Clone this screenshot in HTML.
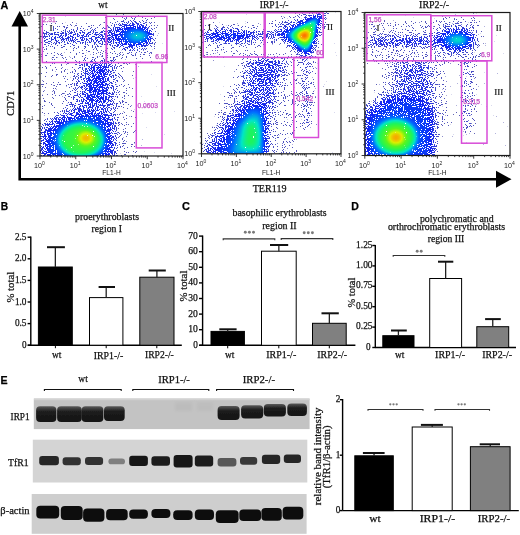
<!DOCTYPE html>
<html><head><meta charset="utf-8"><title>Figure</title>
<style>html,body{margin:0;padding:0;background:#fff;width:520px;height:535px;overflow:hidden}svg{display:block;will-change:transform;filter:blur(0.35px)}</style>
</head><body>
<svg width="520" height="535" viewBox="0 0 520 535"><defs><filter id="f1" x="0" y="0" width="1" height="1" color-interpolation-filters="sRGB">
  <feGaussianBlur in="SourceGraphic" stdDeviation="3.0" result="d"/>
  <feTurbulence type="fractalNoise" baseFrequency="0.9" numOctaves="2" seed="3" result="t"/>
  <feColorMatrix in="t" type="matrix" values="1 0 0 0 0  1 0 0 0 0  1 0 0 0 0  0 0 0 0 1" result="n0"/>
  <feComponentTransfer in="n0" result="n"><feFuncR type="table" tableValues="1.000 1.000 1.000 1.000 1.000 1.000 1.000 0.999 0.996 0.991 0.984 0.968 0.949 0.923 0.886 0.847 0.790 0.733 0.667 0.583 0.510 0.416 0.333 0.268 0.202 0.155 0.114 0.076 0.051 0.031 0.015 0.007 0.003 0.001 0.000 0.000 0.000 0.000 0.000 0.000 0.000"/><feFuncG type="table" tableValues="1.000 1.000 1.000 1.000 1.000 1.000 1.000 0.999 0.996 0.991 0.984 0.968 0.949 0.923 0.886 0.847 0.790 0.733 0.667 0.583 0.510 0.416 0.333 0.268 0.202 0.155 0.114 0.076 0.051 0.031 0.015 0.007 0.003 0.001 0.000 0.000 0.000 0.000 0.000 0.000 0.000"/><feFuncB type="table" tableValues="1.000 1.000 1.000 1.000 1.000 1.000 1.000 0.999 0.996 0.991 0.984 0.968 0.949 0.923 0.886 0.847 0.790 0.733 0.667 0.583 0.510 0.416 0.333 0.268 0.202 0.155 0.114 0.076 0.051 0.031 0.015 0.007 0.003 0.001 0.000 0.000 0.000 0.000 0.000 0.000 0.000"/></feComponentTransfer>
  <feComponentTransfer in="d" result="p"><feFuncR type="linear" slope="2.5"/><feFuncG type="linear" slope="2.5"/><feFuncB type="linear" slope="2.5"/></feComponentTransfer>
  <feComposite in="p" in2="n" operator="arithmetic" k1="0" k2="1" k3="1" k4="-1" result="diff"/>
  <feColorMatrix in="diff" type="matrix" values="0 0 0 0 0  0 0 0 0 0  0 0 0 0 0  60 0 0 0 0" result="mask"/>
  <feComponentTransfer in="d" result="col"><feFuncR type="table" tableValues="0.373 0.255 0.149 0.059 0.000 0.000 0.118 0.353 0.863 1.000 0.941"/><feFuncG type="table" tableValues="0.373 0.282 0.204 0.137 0.451 0.902 0.961 0.961 0.941 0.588 0.157"/><feFuncB type="table" tableValues="0.706 0.804 0.894 0.961 1.000 0.784 0.353 0.118 0.000 0.000 0.000"/></feComponentTransfer>
  <feComposite in="col" in2="mask" operator="in" result="dots"/>
  <feGaussianBlur in="dots" stdDeviation="0.6"/>
</filter><filter id="f2" x="0" y="0" width="1" height="1" color-interpolation-filters="sRGB">
  <feGaussianBlur in="SourceGraphic" stdDeviation="3.0" result="d"/>
  <feTurbulence type="fractalNoise" baseFrequency="0.9" numOctaves="2" seed="11" result="t"/>
  <feColorMatrix in="t" type="matrix" values="1 0 0 0 0  1 0 0 0 0  1 0 0 0 0  0 0 0 0 1" result="n0"/>
  <feComponentTransfer in="n0" result="n"><feFuncR type="table" tableValues="1.000 1.000 1.000 1.000 1.000 1.000 1.000 0.999 0.996 0.991 0.984 0.968 0.949 0.923 0.886 0.847 0.790 0.733 0.667 0.583 0.510 0.416 0.333 0.268 0.202 0.155 0.114 0.076 0.051 0.031 0.015 0.007 0.003 0.001 0.000 0.000 0.000 0.000 0.000 0.000 0.000"/><feFuncG type="table" tableValues="1.000 1.000 1.000 1.000 1.000 1.000 1.000 0.999 0.996 0.991 0.984 0.968 0.949 0.923 0.886 0.847 0.790 0.733 0.667 0.583 0.510 0.416 0.333 0.268 0.202 0.155 0.114 0.076 0.051 0.031 0.015 0.007 0.003 0.001 0.000 0.000 0.000 0.000 0.000 0.000 0.000"/><feFuncB type="table" tableValues="1.000 1.000 1.000 1.000 1.000 1.000 1.000 0.999 0.996 0.991 0.984 0.968 0.949 0.923 0.886 0.847 0.790 0.733 0.667 0.583 0.510 0.416 0.333 0.268 0.202 0.155 0.114 0.076 0.051 0.031 0.015 0.007 0.003 0.001 0.000 0.000 0.000 0.000 0.000 0.000 0.000"/></feComponentTransfer>
  <feComponentTransfer in="d" result="p"><feFuncR type="linear" slope="2.5"/><feFuncG type="linear" slope="2.5"/><feFuncB type="linear" slope="2.5"/></feComponentTransfer>
  <feComposite in="p" in2="n" operator="arithmetic" k1="0" k2="1" k3="1" k4="-1" result="diff"/>
  <feColorMatrix in="diff" type="matrix" values="0 0 0 0 0  0 0 0 0 0  0 0 0 0 0  60 0 0 0 0" result="mask"/>
  <feComponentTransfer in="d" result="col"><feFuncR type="table" tableValues="0.373 0.255 0.149 0.059 0.000 0.000 0.118 0.353 0.863 1.000 0.941"/><feFuncG type="table" tableValues="0.373 0.282 0.204 0.137 0.451 0.902 0.961 0.961 0.941 0.588 0.157"/><feFuncB type="table" tableValues="0.706 0.804 0.894 0.961 1.000 0.784 0.353 0.118 0.000 0.000 0.000"/></feComponentTransfer>
  <feComposite in="col" in2="mask" operator="in" result="dots"/>
  <feGaussianBlur in="dots" stdDeviation="0.6"/>
</filter><filter id="f3" x="0" y="0" width="1" height="1" color-interpolation-filters="sRGB">
  <feGaussianBlur in="SourceGraphic" stdDeviation="3.0" result="d"/>
  <feTurbulence type="fractalNoise" baseFrequency="0.9" numOctaves="2" seed="23" result="t"/>
  <feColorMatrix in="t" type="matrix" values="1 0 0 0 0  1 0 0 0 0  1 0 0 0 0  0 0 0 0 1" result="n0"/>
  <feComponentTransfer in="n0" result="n"><feFuncR type="table" tableValues="1.000 1.000 1.000 1.000 1.000 1.000 1.000 0.999 0.996 0.991 0.984 0.968 0.949 0.923 0.886 0.847 0.790 0.733 0.667 0.583 0.510 0.416 0.333 0.268 0.202 0.155 0.114 0.076 0.051 0.031 0.015 0.007 0.003 0.001 0.000 0.000 0.000 0.000 0.000 0.000 0.000"/><feFuncG type="table" tableValues="1.000 1.000 1.000 1.000 1.000 1.000 1.000 0.999 0.996 0.991 0.984 0.968 0.949 0.923 0.886 0.847 0.790 0.733 0.667 0.583 0.510 0.416 0.333 0.268 0.202 0.155 0.114 0.076 0.051 0.031 0.015 0.007 0.003 0.001 0.000 0.000 0.000 0.000 0.000 0.000 0.000"/><feFuncB type="table" tableValues="1.000 1.000 1.000 1.000 1.000 1.000 1.000 0.999 0.996 0.991 0.984 0.968 0.949 0.923 0.886 0.847 0.790 0.733 0.667 0.583 0.510 0.416 0.333 0.268 0.202 0.155 0.114 0.076 0.051 0.031 0.015 0.007 0.003 0.001 0.000 0.000 0.000 0.000 0.000 0.000 0.000"/></feComponentTransfer>
  <feComponentTransfer in="d" result="p"><feFuncR type="linear" slope="2.5"/><feFuncG type="linear" slope="2.5"/><feFuncB type="linear" slope="2.5"/></feComponentTransfer>
  <feComposite in="p" in2="n" operator="arithmetic" k1="0" k2="1" k3="1" k4="-1" result="diff"/>
  <feColorMatrix in="diff" type="matrix" values="0 0 0 0 0  0 0 0 0 0  0 0 0 0 0  60 0 0 0 0" result="mask"/>
  <feComponentTransfer in="d" result="col"><feFuncR type="table" tableValues="0.373 0.255 0.149 0.059 0.000 0.000 0.118 0.353 0.863 1.000 0.941"/><feFuncG type="table" tableValues="0.373 0.282 0.204 0.137 0.451 0.902 0.961 0.961 0.941 0.588 0.157"/><feFuncB type="table" tableValues="0.706 0.804 0.894 0.961 1.000 0.784 0.353 0.118 0.000 0.000 0.000"/></feComponentTransfer>
  <feComposite in="col" in2="mask" operator="in" result="dots"/>
  <feGaussianBlur in="dots" stdDeviation="0.6"/>
</filter><filter id="bl3" x="-30%" y="-60%" width="160%" height="220%"><feGaussianBlur stdDeviation="1.5"/></filter><linearGradient id="bg1" x1="0" y1="0" x2="0" y2="1"><stop offset="0" stop-color="#5a5a5a"/><stop offset="0.35" stop-color="#1c1c1c"/><stop offset="1" stop-color="#141414"/></linearGradient><filter id="bl2" x="-20%" y="-50%" width="140%" height="200%"><feGaussianBlur stdDeviation="0.65"/></filter><clipPath id="c1"><rect x="40" y="13.5" width="143" height="142.5"/></clipPath><clipPath id="c2"><rect x="201.5" y="11.5" width="139.5" height="142.3"/></clipPath><clipPath id="c3"><rect x="364.8" y="12.5" width="145.2" height="143.0"/></clipPath></defs>
<rect width="520" height="535" fill="#fff"/>
<text x="0.6" y="9.2" font-family='"Liberation Sans", sans-serif' font-size="10.5" fill="#000" stroke="#000" stroke-width="0.25" textLength="7.8" lengthAdjust="spacingAndGlyphs" font-weight="bold">A</text>
<path d="M19.7 25 V179.2 H497" stroke="#000" stroke-width="2.6" fill="none"/>
<polygon points="11.5,26.5 19.7,11 28,26.5" fill="#000"/>
<polygon points="496,170.8 511.5,179.2 496,187.7" fill="#000"/>
<text x="0" y="0" font-family='"Liberation Serif", serif' font-size="11.3" fill="#111" stroke="#111" stroke-width="0.25" textLength="24.9" lengthAdjust="spacingAndGlyphs" transform="translate(14.1 115.8) rotate(-90)">CD71</text>
<text x="252.7" y="192.0" font-family='"Liberation Serif", serif' font-size="11" fill="#111" stroke="#111" stroke-width="0.25" textLength="33.8" lengthAdjust="spacingAndGlyphs" >TER119</text>
<text x="98.3" y="8.2" font-family='"Liberation Serif", serif' font-size="10.5" fill="#111" stroke="#111" stroke-width="0.25" textLength="9.2" lengthAdjust="spacingAndGlyphs" >wt</text>
<text x="259.8" y="8.2" font-family='"Liberation Serif", serif' font-size="10.5" fill="#111" stroke="#111" stroke-width="0.25" textLength="28.7" lengthAdjust="spacingAndGlyphs" >IRP1-/-</text>
<text x="419.1" y="8.2" font-family='"Liberation Serif", serif' font-size="10.5" fill="#111" stroke="#111" stroke-width="0.25" textLength="29.9" lengthAdjust="spacingAndGlyphs" >IRP2-/-</text>
<g clip-path="url(#c1)">
<g filter="url(#f1)">
<rect x="28" y="1.5" width="167" height="166.5" fill="rgb(1,1,1)"/>
<rect x="40" y="60" width="40" height="52" fill="rgb(9,9,9)"/>
<polygon points="100,62 128,62 140,156 110,156" fill="rgb(8,8,8)"/>
<polygon points="105,62 120,62 126,156 110,156" fill="rgb(13,13,13)"/>
<rect x="42" y="24" width="64" height="38" fill="rgb(11,11,11)"/>
<rect x="106" y="16" width="49" height="46" fill="rgb(13,13,13)"/>
<polygon points="42,31 150,28 150,46 42,44" fill="rgb(38,38,38)"/>
<ellipse cx="90" cy="37" rx="50" ry="3.5" fill="rgb(56,56,56)"/>
<ellipse cx="131" cy="36" rx="22" ry="13" fill="rgb(71,71,71)"/>
<ellipse cx="136" cy="36" rx="15" ry="8" fill="rgb(97,97,97)"/>
<ellipse cx="138" cy="36" rx="9" ry="4.5" fill="rgb(128,128,128)"/>
<polygon points="66,112 78,60 118,60 120,112" fill="rgb(31,31,31)"/>
<polygon points="78,110 87,62 110,62 110,110" fill="rgb(51,51,51)"/>
<polygon points="86,106 92,64 106,64 106,106" fill="rgb(76,76,76)"/>
<polygon points="38,160 38,128 50,118 70,108 90,102 106,103 116,118 116,160" fill="rgb(51,51,51)"/>
<polygon points="44,160 46,134 60,121 85,112 104,113 110,128 110,160" fill="rgb(84,84,84)"/>
<ellipse cx="81" cy="140" rx="24" ry="18" fill="rgb(115,115,115)"/>
<ellipse cx="81" cy="140" rx="21" ry="16" fill="rgb(163,163,163)"/>
<ellipse cx="86" cy="138" rx="9" ry="7" fill="rgb(209,209,209)"/>
<ellipse cx="86" cy="138" rx="4" ry="3.5" fill="rgb(235,235,235)"/>
</g>
</g>
<rect x="42.3" y="15.2" width="64.10000000000001" height="47.3" fill="none" stroke="#d84cd8" stroke-width="1.5"/>
<rect x="106.4" y="16.3" width="60.5" height="46.2" fill="none" stroke="#d84cd8" stroke-width="1.5"/>
<rect x="136.3" y="62.5" width="25.69999999999999" height="85.4" fill="none" stroke="#d84cd8" stroke-width="1.5"/>
<text x="42.8" y="22.0" font-family='"Liberation Sans", sans-serif' font-size="6.7" text-anchor="start" fill="#c44ec4" stroke="#c44ec4" stroke-width="0.25">2.31</text>
<text x="168.3" y="58.8" font-family='"Liberation Sans", sans-serif' font-size="6.7" text-anchor="end" fill="#c44ec4" stroke="#c44ec4" stroke-width="0.25">6.96</text>
<text x="137.5" y="108.0" font-family='"Liberation Sans", sans-serif' font-size="6.7" text-anchor="start" fill="#c44ec4" stroke="#c44ec4" stroke-width="0.25">0.0603</text>
<text x="49.5" y="31.0" font-family='"Liberation Serif", serif' font-size="9" text-anchor="start" fill="#111" stroke="#111" stroke-width="0.2">I</text>
<text x="168.2" y="31.0" font-family='"Liberation Serif", serif' font-size="9" text-anchor="start" fill="#111" stroke="#111" stroke-width="0.2">II</text>
<text x="166.8" y="95.8" font-family='"Liberation Serif", serif' font-size="9" text-anchor="start" fill="#111" stroke="#111" stroke-width="0.2">III</text>
<rect x="40" y="13.5" width="143" height="142.5" fill="none" stroke="#1a1a1a" stroke-width="1.2"/>
<path d="M40.00 156 v3.2 M40 156.00 h-3.2 M50.76 156 v1.6 M40 145.28 h-1.6 M57.06 156 v1.6 M40 139.00 h-1.6 M61.52 156 v1.6 M40 134.55 h-1.6 M64.99 156 v1.6 M40 131.10 h-1.6 M67.82 156 v1.6 M40 128.28 h-1.6 M70.21 156 v1.6 M40 125.89 h-1.6 M72.29 156 v1.6 M40 123.83 h-1.6 M74.11 156 v1.6 M40 122.01 h-1.6 M75.75 156 v3.2 M40 120.38 h-3.2 M86.51 156 v1.6 M40 109.65 h-1.6 M92.81 156 v1.6 M40 103.38 h-1.6 M97.27 156 v1.6 M40 98.93 h-1.6 M100.74 156 v1.6 M40 95.47 h-1.6 M103.57 156 v1.6 M40 92.65 h-1.6 M105.96 156 v1.6 M40 90.27 h-1.6 M108.04 156 v1.6 M40 88.20 h-1.6 M109.86 156 v1.6 M40 86.38 h-1.6 M111.50 156 v3.2 M40 84.75 h-3.2 M122.26 156 v1.6 M40 74.03 h-1.6 M128.56 156 v1.6 M40 67.75 h-1.6 M133.02 156 v1.6 M40 63.30 h-1.6 M136.49 156 v1.6 M40 59.85 h-1.6 M139.32 156 v1.6 M40 57.03 h-1.6 M141.71 156 v1.6 M40 54.64 h-1.6 M143.79 156 v1.6 M40 52.58 h-1.6 M145.61 156 v1.6 M40 50.76 h-1.6 M147.25 156 v3.2 M40 49.12 h-3.2 M158.01 156 v1.6 M40 38.40 h-1.6 M164.31 156 v1.6 M40 32.13 h-1.6 M168.77 156 v1.6 M40 27.68 h-1.6 M172.24 156 v1.6 M40 24.22 h-1.6 M175.07 156 v1.6 M40 21.40 h-1.6 M177.46 156 v1.6 M40 19.02 h-1.6 M179.54 156 v1.6 M40 16.95 h-1.6 M181.36 156 v1.6 M40 15.13 h-1.6 M183 156 v3.2 M40 13.5 h-3.2" stroke="#222" stroke-width="0.9" fill="none"/>
<text x="39.5" y="168.2" font-family='"Liberation Sans", sans-serif' font-size="7.2" text-anchor="middle" fill="#222">10<tspan font-size="5" dy="-3">0</tspan></text>
<text x="33.5" y="158.6" font-family='"Liberation Sans", sans-serif' font-size="7.2" text-anchor="end" fill="#222">10<tspan font-size="5" dy="-3">0</tspan></text>
<text x="75.2" y="168.2" font-family='"Liberation Sans", sans-serif' font-size="7.2" text-anchor="middle" fill="#222">10<tspan font-size="5" dy="-3">1</tspan></text>
<text x="33.5" y="123.0" font-family='"Liberation Sans", sans-serif' font-size="7.2" text-anchor="end" fill="#222">10<tspan font-size="5" dy="-3">1</tspan></text>
<text x="111.0" y="168.2" font-family='"Liberation Sans", sans-serif' font-size="7.2" text-anchor="middle" fill="#222">10<tspan font-size="5" dy="-3">2</tspan></text>
<text x="33.5" y="87.3" font-family='"Liberation Sans", sans-serif' font-size="7.2" text-anchor="end" fill="#222">10<tspan font-size="5" dy="-3">2</tspan></text>
<text x="146.8" y="168.2" font-family='"Liberation Sans", sans-serif' font-size="7.2" text-anchor="middle" fill="#222">10<tspan font-size="5" dy="-3">3</tspan></text>
<text x="33.5" y="51.7" font-family='"Liberation Sans", sans-serif' font-size="7.2" text-anchor="end" fill="#222">10<tspan font-size="5" dy="-3">3</tspan></text>
<text x="182.5" y="168.2" font-family='"Liberation Sans", sans-serif' font-size="7.2" text-anchor="middle" fill="#222">10<tspan font-size="5" dy="-3">4</tspan></text>
<text x="33.5" y="16.1" font-family='"Liberation Sans", sans-serif' font-size="7.2" text-anchor="end" fill="#222">10<tspan font-size="5" dy="-3">4</tspan></text>
<text x="111.5" y="175.3" font-family='"Liberation Sans", sans-serif' font-size="6.6" text-anchor="middle" fill="#222" >FL1-H</text>
<g clip-path="url(#c2)">
<g filter="url(#f2)">
<rect x="189.5" y="-0.5" width="163.5" height="166.3" fill="rgb(1,1,1)"/>
<rect x="203" y="24" width="61" height="33" fill="rgb(10,10,10)"/>
<ellipse cx="232" cy="36" rx="32" ry="6" fill="rgb(64,64,64)"/>
<ellipse cx="228" cy="35.5" rx="22" ry="4" fill="rgb(92,92,92)"/>
<polygon points="255,31 285,30 285,41 255,41" fill="rgb(46,46,46)"/>
<polygon points="265,25 328,8 312,66" fill="rgb(26,26,26)"/>
<polygon points="276,33 324,12 308,58" fill="rgb(84,84,84)"/>
<polygon points="286,34 320,15 308,54" fill="rgb(115,115,115)"/>
<polygon points="291,36 317,18 308,50" fill="rgb(166,166,166)"/>
<ellipse cx="304.5" cy="35.5" rx="9" ry="7" fill="rgb(217,217,217)"/>
<ellipse cx="304.5" cy="35.5" rx="5" ry="4" fill="rgb(255,255,255)"/>
<polygon points="300,55 312,55 310,130 302,130" fill="rgb(31,31,31)"/>
<polygon points="210,158 222,100 245,58 298,58 295,158" fill="rgb(13,13,13)"/>
<polygon points="236,112 248,58 288,58 272,112" fill="rgb(41,41,41)"/>
<polygon points="246,108 256,60 280,60 268,108" fill="rgb(61,61,61)"/>
<polygon points="203,158 205,145 222,122 240,100 258,92 270,96 268,158" fill="rgb(51,51,51)"/>
<polygon points="210,158 228,128 245,106 265,102 266,158" fill="rgb(84,84,84)"/>
<polygon points="230,156 238,125 252,110 263,115 264,156" fill="rgb(115,115,115)"/>
<polygon points="242,148 246,124 255,120 259,134 257,148" fill="rgb(153,153,153)"/>
</g>
</g>
<rect x="203.2" y="12.8" width="61.0" height="44.2" fill="none" stroke="#d84cd8" stroke-width="1.5"/>
<rect x="265.2" y="12.8" width="58.0" height="44.7" fill="none" stroke="#d84cd8" stroke-width="1.5"/>
<rect x="293.8" y="57.5" width="24.69999999999999" height="80.0" fill="none" stroke="#d84cd8" stroke-width="1.5"/>
<text x="203.8" y="19.3" font-family='"Liberation Sans", sans-serif' font-size="6.7" text-anchor="start" fill="#c44ec4" stroke="#c44ec4" stroke-width="0.25">2.08</text>
<text x="323.6" y="54.8" font-family='"Liberation Sans", sans-serif' font-size="6.7" text-anchor="end" fill="#c44ec4" stroke="#c44ec4" stroke-width="0.25">60</text>
<text x="296.5" y="101.0" font-family='"Liberation Sans", sans-serif' font-size="6.7" text-anchor="start" fill="#c44ec4" stroke="#c44ec4" stroke-width="0.25">0.542</text>
<text x="208.0" y="30.0" font-family='"Liberation Serif", serif' font-size="9" text-anchor="start" fill="#111" stroke="#111" stroke-width="0.2">I</text>
<text x="327.0" y="30.0" font-family='"Liberation Serif", serif' font-size="9" text-anchor="start" fill="#111" stroke="#111" stroke-width="0.2">II</text>
<text x="325.4" y="94.8" font-family='"Liberation Serif", serif' font-size="9" text-anchor="start" fill="#111" stroke="#111" stroke-width="0.2">III</text>
<rect x="201.5" y="11.5" width="139.5" height="142.3" fill="none" stroke="#1a1a1a" stroke-width="1.2"/>
<path d="M201.50 153.8 v3.2 M201.5 153.80 h-3.2 M212.00 153.8 v1.6 M201.5 143.09 h-1.6 M218.14 153.8 v1.6 M201.5 136.83 h-1.6 M222.50 153.8 v1.6 M201.5 132.38 h-1.6 M225.88 153.8 v1.6 M201.5 128.93 h-1.6 M228.64 153.8 v1.6 M201.5 126.12 h-1.6 M230.97 153.8 v1.6 M201.5 123.74 h-1.6 M233.00 153.8 v1.6 M201.5 121.67 h-1.6 M234.78 153.8 v1.6 M201.5 119.85 h-1.6 M236.38 153.8 v3.2 M201.5 118.23 h-3.2 M246.87 153.8 v1.6 M201.5 107.52 h-1.6 M253.01 153.8 v1.6 M201.5 101.25 h-1.6 M257.37 153.8 v1.6 M201.5 96.81 h-1.6 M260.75 153.8 v1.6 M201.5 93.36 h-1.6 M263.51 153.8 v1.6 M201.5 90.54 h-1.6 M265.85 153.8 v1.6 M201.5 88.16 h-1.6 M267.87 153.8 v1.6 M201.5 86.10 h-1.6 M269.65 153.8 v1.6 M201.5 84.28 h-1.6 M271.25 153.8 v3.2 M201.5 82.65 h-3.2 M281.75 153.8 v1.6 M201.5 71.94 h-1.6 M287.89 153.8 v1.6 M201.5 65.68 h-1.6 M292.25 153.8 v1.6 M201.5 61.23 h-1.6 M295.63 153.8 v1.6 M201.5 57.78 h-1.6 M298.39 153.8 v1.6 M201.5 54.97 h-1.6 M300.72 153.8 v1.6 M201.5 52.59 h-1.6 M302.75 153.8 v1.6 M201.5 50.52 h-1.6 M304.53 153.8 v1.6 M201.5 48.70 h-1.6 M306.12 153.8 v3.2 M201.5 47.08 h-3.2 M316.62 153.8 v1.6 M201.5 36.37 h-1.6 M322.76 153.8 v1.6 M201.5 30.10 h-1.6 M327.12 153.8 v1.6 M201.5 25.66 h-1.6 M330.50 153.8 v1.6 M201.5 22.21 h-1.6 M333.26 153.8 v1.6 M201.5 19.39 h-1.6 M335.60 153.8 v1.6 M201.5 17.01 h-1.6 M337.62 153.8 v1.6 M201.5 14.95 h-1.6 M339.40 153.8 v1.6 M201.5 13.13 h-1.6 M341 153.8 v3.2 M201.5 11.5 h-3.2" stroke="#222" stroke-width="0.9" fill="none"/>
<text x="201.0" y="166.0" font-family='"Liberation Sans", sans-serif' font-size="7.2" text-anchor="middle" fill="#222">10<tspan font-size="5" dy="-3">0</tspan></text>
<text x="195.0" y="156.4" font-family='"Liberation Sans", sans-serif' font-size="7.2" text-anchor="end" fill="#222">10<tspan font-size="5" dy="-3">0</tspan></text>
<text x="235.9" y="166.0" font-family='"Liberation Sans", sans-serif' font-size="7.2" text-anchor="middle" fill="#222">10<tspan font-size="5" dy="-3">1</tspan></text>
<text x="195.0" y="120.8" font-family='"Liberation Sans", sans-serif' font-size="7.2" text-anchor="end" fill="#222">10<tspan font-size="5" dy="-3">1</tspan></text>
<text x="270.8" y="166.0" font-family='"Liberation Sans", sans-serif' font-size="7.2" text-anchor="middle" fill="#222">10<tspan font-size="5" dy="-3">2</tspan></text>
<text x="195.0" y="85.2" font-family='"Liberation Sans", sans-serif' font-size="7.2" text-anchor="end" fill="#222">10<tspan font-size="5" dy="-3">2</tspan></text>
<text x="305.6" y="166.0" font-family='"Liberation Sans", sans-serif' font-size="7.2" text-anchor="middle" fill="#222">10<tspan font-size="5" dy="-3">3</tspan></text>
<text x="195.0" y="49.7" font-family='"Liberation Sans", sans-serif' font-size="7.2" text-anchor="end" fill="#222">10<tspan font-size="5" dy="-3">3</tspan></text>
<text x="340.5" y="166.0" font-family='"Liberation Sans", sans-serif' font-size="7.2" text-anchor="middle" fill="#222">10<tspan font-size="5" dy="-3">4</tspan></text>
<text x="195.0" y="14.1" font-family='"Liberation Sans", sans-serif' font-size="7.2" text-anchor="end" fill="#222">10<tspan font-size="5" dy="-3">4</tspan></text>
<text x="271.2" y="175.3" font-family='"Liberation Sans", sans-serif' font-size="6.6" text-anchor="middle" fill="#222" >FL1-H</text>
<g clip-path="url(#c3)">
<g filter="url(#f3)">
<rect x="352.8" y="0.5" width="169.2" height="167.0" fill="rgb(1,1,1)"/>
<rect x="367" y="22" width="64" height="39" fill="rgb(13,13,13)"/>
<rect x="431" y="18" width="49" height="43" fill="rgb(15,15,15)"/>
<ellipse cx="410" cy="41.5" rx="46" ry="4.5" fill="rgb(51,51,51)"/>
<ellipse cx="405" cy="41.5" rx="38" ry="2.5" fill="rgb(76,76,76)"/>
<ellipse cx="455" cy="39.5" rx="21" ry="12" fill="rgb(66,66,66)"/>
<ellipse cx="456" cy="40" rx="16" ry="9" fill="rgb(92,92,92)"/>
<ellipse cx="457.5" cy="40" rx="9" ry="4.5" fill="rgb(133,133,133)"/>
<polygon points="462,55 474,55 472,130 463,130" fill="rgb(26,26,26)"/>
<polygon points="370,125 385,62 445,62 450,125" fill="rgb(13,13,13)"/>
<polygon points="388,110 396,62 432,62 436,110" fill="rgb(36,36,36)"/>
<polygon points="398,100 403,64 426,64 430,100" fill="rgb(51,51,51)"/>
<polygon points="362,160 362,110 385,95 420,90 436,110 436,160" fill="rgb(56,56,56)"/>
<polygon points="366,160 367,118 385,100 418,96 432,115 432,160" fill="rgb(84,84,84)"/>
<ellipse cx="395" cy="137" rx="23" ry="19" fill="rgb(115,115,115)"/>
<ellipse cx="396" cy="137" rx="19" ry="16" fill="rgb(163,163,163)"/>
<ellipse cx="396" cy="137.5" rx="10" ry="8.5" fill="rgb(204,204,204)"/>
<ellipse cx="396" cy="137.5" rx="5" ry="4.5" fill="rgb(235,235,235)"/>
</g>
</g>
<rect x="366.8" y="14.8" width="64.0" height="46.0" fill="none" stroke="#d84cd8" stroke-width="1.5"/>
<rect x="430.8" y="15.7" width="61.0" height="45.099999999999994" fill="none" stroke="#d84cd8" stroke-width="1.5"/>
<rect x="461.5" y="60.8" width="25.5" height="82.39999999999999" fill="none" stroke="#d84cd8" stroke-width="1.5"/>
<text x="368.4" y="21.5" font-family='"Liberation Sans", sans-serif' font-size="6.7" text-anchor="start" fill="#c44ec4" stroke="#c44ec4" stroke-width="0.25">1.56</text>
<text x="490.2" y="57.0" font-family='"Liberation Sans", sans-serif' font-size="6.7" text-anchor="end" fill="#c44ec4" stroke="#c44ec4" stroke-width="0.25">6.9</text>
<text x="463.2" y="104.0" font-family='"Liberation Sans", sans-serif' font-size="6.7" text-anchor="start" fill="#c44ec4" stroke="#c44ec4" stroke-width="0.25">0.315</text>
<text x="376.5" y="31.0" font-family='"Liberation Serif", serif' font-size="9" text-anchor="start" fill="#111" stroke="#111" stroke-width="0.2">I</text>
<text x="495.8" y="31.0" font-family='"Liberation Serif", serif' font-size="9" text-anchor="start" fill="#111" stroke="#111" stroke-width="0.2">II</text>
<text x="494.3" y="95.0" font-family='"Liberation Serif", serif' font-size="9" text-anchor="start" fill="#111" stroke="#111" stroke-width="0.2">III</text>
<rect x="364.8" y="12.5" width="145.2" height="143.0" fill="none" stroke="#1a1a1a" stroke-width="1.2"/>
<path d="M364.80 155.5 v3.2 M364.8 155.50 h-3.2 M375.73 155.5 v1.6 M364.8 144.74 h-1.6 M382.12 155.5 v1.6 M364.8 138.44 h-1.6 M386.65 155.5 v1.6 M364.8 133.98 h-1.6 M390.17 155.5 v1.6 M364.8 130.51 h-1.6 M393.05 155.5 v1.6 M364.8 127.68 h-1.6 M395.48 155.5 v1.6 M364.8 125.29 h-1.6 M397.58 155.5 v1.6 M364.8 123.21 h-1.6 M399.44 155.5 v1.6 M364.8 121.39 h-1.6 M401.10 155.5 v3.2 M364.8 119.75 h-3.2 M412.03 155.5 v1.6 M364.8 108.99 h-1.6 M418.42 155.5 v1.6 M364.8 102.69 h-1.6 M422.95 155.5 v1.6 M364.8 98.23 h-1.6 M426.47 155.5 v1.6 M364.8 94.76 h-1.6 M429.35 155.5 v1.6 M364.8 91.93 h-1.6 M431.78 155.5 v1.6 M364.8 89.54 h-1.6 M433.88 155.5 v1.6 M364.8 87.46 h-1.6 M435.74 155.5 v1.6 M364.8 85.64 h-1.6 M437.40 155.5 v3.2 M364.8 84.00 h-3.2 M448.33 155.5 v1.6 M364.8 73.24 h-1.6 M454.72 155.5 v1.6 M364.8 66.94 h-1.6 M459.25 155.5 v1.6 M364.8 62.48 h-1.6 M462.77 155.5 v1.6 M364.8 59.01 h-1.6 M465.65 155.5 v1.6 M364.8 56.18 h-1.6 M468.08 155.5 v1.6 M364.8 53.79 h-1.6 M470.18 155.5 v1.6 M364.8 51.71 h-1.6 M472.04 155.5 v1.6 M364.8 49.89 h-1.6 M473.70 155.5 v3.2 M364.8 48.25 h-3.2 M484.63 155.5 v1.6 M364.8 37.49 h-1.6 M491.02 155.5 v1.6 M364.8 31.19 h-1.6 M495.55 155.5 v1.6 M364.8 26.73 h-1.6 M499.07 155.5 v1.6 M364.8 23.26 h-1.6 M501.95 155.5 v1.6 M364.8 20.43 h-1.6 M504.38 155.5 v1.6 M364.8 18.04 h-1.6 M506.48 155.5 v1.6 M364.8 15.96 h-1.6 M508.34 155.5 v1.6 M364.8 14.14 h-1.6 M510 155.5 v3.2 M364.8 12.5 h-3.2" stroke="#222" stroke-width="0.9" fill="none"/>
<text x="364.3" y="167.7" font-family='"Liberation Sans", sans-serif' font-size="7.2" text-anchor="middle" fill="#222">10<tspan font-size="5" dy="-3">0</tspan></text>
<text x="358.3" y="158.1" font-family='"Liberation Sans", sans-serif' font-size="7.2" text-anchor="end" fill="#222">10<tspan font-size="5" dy="-3">0</tspan></text>
<text x="400.6" y="167.7" font-family='"Liberation Sans", sans-serif' font-size="7.2" text-anchor="middle" fill="#222">10<tspan font-size="5" dy="-3">1</tspan></text>
<text x="358.3" y="122.3" font-family='"Liberation Sans", sans-serif' font-size="7.2" text-anchor="end" fill="#222">10<tspan font-size="5" dy="-3">1</tspan></text>
<text x="436.9" y="167.7" font-family='"Liberation Sans", sans-serif' font-size="7.2" text-anchor="middle" fill="#222">10<tspan font-size="5" dy="-3">2</tspan></text>
<text x="358.3" y="86.6" font-family='"Liberation Sans", sans-serif' font-size="7.2" text-anchor="end" fill="#222">10<tspan font-size="5" dy="-3">2</tspan></text>
<text x="473.2" y="167.7" font-family='"Liberation Sans", sans-serif' font-size="7.2" text-anchor="middle" fill="#222">10<tspan font-size="5" dy="-3">3</tspan></text>
<text x="358.3" y="50.9" font-family='"Liberation Sans", sans-serif' font-size="7.2" text-anchor="end" fill="#222">10<tspan font-size="5" dy="-3">3</tspan></text>
<text x="509.5" y="167.7" font-family='"Liberation Sans", sans-serif' font-size="7.2" text-anchor="middle" fill="#222">10<tspan font-size="5" dy="-3">4</tspan></text>
<text x="358.3" y="15.1" font-family='"Liberation Sans", sans-serif' font-size="7.2" text-anchor="end" fill="#222">10<tspan font-size="5" dy="-3">4</tspan></text>
<text x="437.4" y="175.3" font-family='"Liberation Sans", sans-serif' font-size="6.6" text-anchor="middle" fill="#222" >FL1-H</text>
<text x="0.8" y="209.7" font-family='"Liberation Sans", sans-serif' font-size="10.5" fill="#000" stroke="#000" stroke-width="0.25" textLength="7.4" lengthAdjust="spacingAndGlyphs" font-weight="bold">B</text>
<path d="M30.8 236.6 V345.2 M27.8 345.2 H181.8" stroke="#000" stroke-width="1.4" fill="none"/>
<path d="M27.6 345.2 H30.8" stroke="#000" stroke-width="1.4"/>
<text x="21.9" y="347.8" font-family='"Liberation Serif", serif' font-size="10.3" fill="#111" stroke="#111" stroke-width="0.25" textLength="4.6" lengthAdjust="spacingAndGlyphs">0</text>
<path d="M27.6 323.6 H30.8" stroke="#000" stroke-width="1.4"/>
<text x="14.9" y="326.2" font-family='"Liberation Serif", serif' font-size="10.3" fill="#111" stroke="#111" stroke-width="0.25" textLength="11.6" lengthAdjust="spacingAndGlyphs">0.5</text>
<path d="M27.6 302.0 H30.8" stroke="#000" stroke-width="1.4"/>
<text x="14.9" y="304.6" font-family='"Liberation Serif", serif' font-size="10.3" fill="#111" stroke="#111" stroke-width="0.25" textLength="11.6" lengthAdjust="spacingAndGlyphs">1.0</text>
<path d="M27.6 280.4 H30.8" stroke="#000" stroke-width="1.4"/>
<text x="14.9" y="283.0" font-family='"Liberation Serif", serif' font-size="10.3" fill="#111" stroke="#111" stroke-width="0.25" textLength="11.6" lengthAdjust="spacingAndGlyphs">1.5</text>
<path d="M27.6 258.8 H30.8" stroke="#000" stroke-width="1.4"/>
<text x="14.9" y="261.4" font-family='"Liberation Serif", serif' font-size="10.3" fill="#111" stroke="#111" stroke-width="0.25" textLength="11.6" lengthAdjust="spacingAndGlyphs">2.0</text>
<path d="M27.6 237.2 H30.8" stroke="#000" stroke-width="1.4"/>
<text x="14.9" y="239.8" font-family='"Liberation Serif", serif' font-size="10.3" fill="#111" stroke="#111" stroke-width="0.25" textLength="11.6" lengthAdjust="spacingAndGlyphs">2.5</text>
<rect x="38.4" y="267" width="33.9" height="78.19999999999999" fill="#000" stroke="#000" stroke-width="1.0"/>
<path d="M55.349999999999994 267 V247.2" stroke="#222" stroke-width="1.3" fill="none"/>
<path d="M47 247.2 H64.9" stroke="#111" stroke-width="2" fill="none"/>
<rect x="89.5" y="297.6" width="33.400000000000006" height="47.599999999999966" fill="#fff" stroke="#000" stroke-width="1.0"/>
<path d="M106.2 297.6 V287" stroke="#222" stroke-width="1.3" fill="none"/>
<path d="M98.6 287 H115" stroke="#111" stroke-width="2" fill="none"/>
<rect x="139.8" y="277.2" width="34.19999999999999" height="68.0" fill="#808080" stroke="#000" stroke-width="1.0"/>
<path d="M156.9 277.2 V270.5" stroke="#222" stroke-width="1.3" fill="none"/>
<path d="M148.7 270.5 H165.8" stroke="#111" stroke-width="2" fill="none"/>
<path d="M55.4 345.2 v3" stroke="#000" stroke-width="1"/>
<path d="M106.2 345.2 v3" stroke="#000" stroke-width="1"/>
<path d="M156.8 345.2 v3" stroke="#000" stroke-width="1"/>
<text x="51.9" y="358.3" font-family='"Liberation Serif", serif' font-size="10.5" fill="#111" stroke="#111" stroke-width="0.25" textLength="9.5" lengthAdjust="spacingAndGlyphs" >wt</text>
<text x="93.8" y="358.6" font-family='"Liberation Serif", serif' font-size="10.5" fill="#111" stroke="#111" stroke-width="0.25" textLength="29.4" lengthAdjust="spacingAndGlyphs" >IRP1-/-</text>
<text x="145.0" y="358.3" font-family='"Liberation Serif", serif' font-size="10.5" fill="#111" stroke="#111" stroke-width="0.25" textLength="28.8" lengthAdjust="spacingAndGlyphs" >IRP2-/-</text>
<text x="75.0" y="219.5" font-family='"Liberation Serif", serif' font-size="10.3" fill="#111" stroke="#111" stroke-width="0.25" textLength="64.0" lengthAdjust="spacingAndGlyphs" >proerythroblasts</text>
<text x="91.6" y="231.8" font-family='"Liberation Serif", serif' font-size="10.3" fill="#111" stroke="#111" stroke-width="0.25" textLength="30.4" lengthAdjust="spacingAndGlyphs" >region I</text>
<text x="0" y="0" font-family='"Liberation Serif", serif' font-size="10.8" fill="#111" stroke="#111" stroke-width="0.25" textLength="30.8" lengthAdjust="spacingAndGlyphs" transform="translate(14.0 302.6) rotate(-90)">% total</text>
<text x="181.9" y="209.7" font-family='"Liberation Sans", sans-serif' font-size="10.5" fill="#000" stroke="#000" stroke-width="0.25" textLength="7.9" lengthAdjust="spacingAndGlyphs" font-weight="bold">C</text>
<path d="M202.6 235.50000000000003 V345.3 M199.2 345.3 H355.4" stroke="#000" stroke-width="1.4" fill="none"/>
<path d="M199 345.3 H202.6" stroke="#000" stroke-width="1.4"/>
<text x="193.2" y="347.7" font-family='"Liberation Serif", serif' font-size="10.3" fill="#111" stroke="#111" stroke-width="0.25" textLength="4.6" lengthAdjust="spacingAndGlyphs">0</text>
<path d="M199 329.7 H202.6" stroke="#000" stroke-width="1.4"/>
<text x="188.2" y="332.1" font-family='"Liberation Serif", serif' font-size="10.3" fill="#111" stroke="#111" stroke-width="0.25" textLength="9.6" lengthAdjust="spacingAndGlyphs">10</text>
<path d="M199 314.1 H202.6" stroke="#000" stroke-width="1.4"/>
<text x="188.2" y="316.5" font-family='"Liberation Serif", serif' font-size="10.3" fill="#111" stroke="#111" stroke-width="0.25" textLength="9.6" lengthAdjust="spacingAndGlyphs">20</text>
<path d="M199 298.5 H202.6" stroke="#000" stroke-width="1.4"/>
<text x="188.2" y="300.9" font-family='"Liberation Serif", serif' font-size="10.3" fill="#111" stroke="#111" stroke-width="0.25" textLength="9.6" lengthAdjust="spacingAndGlyphs">30</text>
<path d="M199 282.9 H202.6" stroke="#000" stroke-width="1.4"/>
<text x="188.2" y="285.3" font-family='"Liberation Serif", serif' font-size="10.3" fill="#111" stroke="#111" stroke-width="0.25" textLength="9.6" lengthAdjust="spacingAndGlyphs">40</text>
<path d="M199 267.3 H202.6" stroke="#000" stroke-width="1.4"/>
<text x="188.2" y="269.7" font-family='"Liberation Serif", serif' font-size="10.3" fill="#111" stroke="#111" stroke-width="0.25" textLength="9.6" lengthAdjust="spacingAndGlyphs">50</text>
<path d="M199 251.7 H202.6" stroke="#000" stroke-width="1.4"/>
<text x="188.2" y="254.1" font-family='"Liberation Serif", serif' font-size="10.3" fill="#111" stroke="#111" stroke-width="0.25" textLength="9.6" lengthAdjust="spacingAndGlyphs">60</text>
<path d="M199 236.1 H202.6" stroke="#000" stroke-width="1.4"/>
<text x="188.2" y="238.5" font-family='"Liberation Serif", serif' font-size="10.3" fill="#111" stroke="#111" stroke-width="0.25" textLength="9.6" lengthAdjust="spacingAndGlyphs">70</text>
<rect x="211" y="331.4" width="33.400000000000006" height="13.900000000000034" fill="#000" stroke="#000" stroke-width="1.0"/>
<path d="M227.7 331.4 V329.3" stroke="#222" stroke-width="1.3" fill="none"/>
<path d="M219.3 329.3 H236.6" stroke="#111" stroke-width="2" fill="none"/>
<rect x="261.5" y="251.2" width="34.69999999999999" height="94.10000000000002" fill="#fff" stroke="#000" stroke-width="1.0"/>
<path d="M278.85 251.2 V245" stroke="#222" stroke-width="1.3" fill="none"/>
<path d="M270 245 H288.2" stroke="#111" stroke-width="2" fill="none"/>
<rect x="312.5" y="323.3" width="33.69999999999999" height="22.0" fill="#808080" stroke="#000" stroke-width="1.0"/>
<path d="M329.35 323.3 V313.3" stroke="#222" stroke-width="1.3" fill="none"/>
<path d="M321.5 313.3 H338.8" stroke="#111" stroke-width="2" fill="none"/>
<path d="M227.7 345.3 v3" stroke="#000" stroke-width="1"/>
<path d="M278.8 345.3 v3" stroke="#000" stroke-width="1"/>
<path d="M329.3 345.3 v3" stroke="#000" stroke-width="1"/>
<text x="225.0" y="358.3" font-family='"Liberation Serif", serif' font-size="10.5" fill="#111" stroke="#111" stroke-width="0.25" textLength="9.5" lengthAdjust="spacingAndGlyphs" >wt</text>
<text x="266.3" y="358.3" font-family='"Liberation Serif", serif' font-size="10.5" fill="#111" stroke="#111" stroke-width="0.25" textLength="29.9" lengthAdjust="spacingAndGlyphs" >IRP1-/-</text>
<text x="317.3" y="358.3" font-family='"Liberation Serif", serif' font-size="10.5" fill="#111" stroke="#111" stroke-width="0.25" textLength="29.7" lengthAdjust="spacingAndGlyphs" >IRP2-/-</text>
<text x="232.5" y="215.8" font-family='"Liberation Serif", serif' font-size="10.5" fill="#111" stroke="#111" stroke-width="0.25" textLength="94.2" lengthAdjust="spacingAndGlyphs" >basophilic erythroblasts</text>
<text x="262.2" y="228.8" font-family='"Liberation Serif", serif' font-size="10.5" fill="#111" stroke="#111" stroke-width="0.25" textLength="34.5" lengthAdjust="spacingAndGlyphs" >region II</text>
<path d="M223.2 240.20000000000002 V238.9 H274.8 V240.20000000000002" stroke="#333" stroke-width="1.1" fill="none"/>
<circle cx="245.3" cy="232.3" r="1.45" fill="#7a7a7a"/>
<circle cx="249.4" cy="232.3" r="1.45" fill="#7a7a7a"/>
<circle cx="253.5" cy="232.3" r="1.45" fill="#7a7a7a"/>
<path d="M281.2 239.9 V238.6 H332.8 V239.9" stroke="#333" stroke-width="1.1" fill="none"/>
<circle cx="304.2" cy="232.8" r="1.45" fill="#7a7a7a"/>
<circle cx="308.3" cy="232.8" r="1.45" fill="#7a7a7a"/>
<circle cx="312.4" cy="232.8" r="1.45" fill="#7a7a7a"/>
<text x="0" y="0" font-family='"Liberation Serif", serif' font-size="10.8" fill="#111" stroke="#111" stroke-width="0.25" textLength="30.9" lengthAdjust="spacingAndGlyphs" transform="translate(187.0 301.5) rotate(-90)">% total</text>
<text x="351.3" y="209.7" font-family='"Liberation Sans", sans-serif' font-size="10.5" fill="#000" stroke="#000" stroke-width="0.25" textLength="7.6" lengthAdjust="spacingAndGlyphs" font-weight="bold">D</text>
<path d="M375.3 244.9 V347.5 M375 347.5 H516" stroke="#000" stroke-width="1.4" fill="none"/>
<path d="M372.3 347.5 H375.3" stroke="#000" stroke-width="1.4"/>
<text x="365.9" y="349.8" font-family='"Liberation Serif", serif' font-size="10.3" fill="#111" stroke="#111" stroke-width="0.25" textLength="4.6" lengthAdjust="spacingAndGlyphs">0</text>
<path d="M372.3 327.1 H375.3" stroke="#000" stroke-width="1.4"/>
<text x="356.1" y="329.1" font-family='"Liberation Serif", serif' font-size="10.3" fill="#111" stroke="#111" stroke-width="0.25" textLength="16.5" lengthAdjust="spacingAndGlyphs">0.25</text>
<path d="M372.3 306.7 H375.3" stroke="#000" stroke-width="1.4"/>
<text x="356.1" y="308.7" font-family='"Liberation Serif", serif' font-size="10.3" fill="#111" stroke="#111" stroke-width="0.25" textLength="16.5" lengthAdjust="spacingAndGlyphs">0.50</text>
<path d="M372.3 286.3 H375.3" stroke="#000" stroke-width="1.4"/>
<text x="356.1" y="288.3" font-family='"Liberation Serif", serif' font-size="10.3" fill="#111" stroke="#111" stroke-width="0.25" textLength="16.5" lengthAdjust="spacingAndGlyphs">0.75</text>
<path d="M372.3 265.9 H375.3" stroke="#000" stroke-width="1.4"/>
<text x="356.1" y="267.9" font-family='"Liberation Serif", serif' font-size="10.3" fill="#111" stroke="#111" stroke-width="0.25" textLength="16.5" lengthAdjust="spacingAndGlyphs">1.00</text>
<path d="M372.3 245.5 H375.3" stroke="#000" stroke-width="1.4"/>
<text x="356.1" y="247.5" font-family='"Liberation Serif", serif' font-size="10.3" fill="#111" stroke="#111" stroke-width="0.25" textLength="16.5" lengthAdjust="spacingAndGlyphs">1.25</text>
<rect x="382.8" y="335.7" width="31.19999999999999" height="11.800000000000011" fill="#000" stroke="#000" stroke-width="1.0"/>
<path d="M398.4 335.7 V330.5" stroke="#222" stroke-width="1.3" fill="none"/>
<path d="M391 330.5 H406.8" stroke="#111" stroke-width="2" fill="none"/>
<rect x="429.7" y="278.5" width="31.900000000000034" height="69.0" fill="#fff" stroke="#000" stroke-width="1.0"/>
<path d="M445.65 278.5 V261.7" stroke="#222" stroke-width="1.3" fill="none"/>
<path d="M438 261.7 H453.3" stroke="#111" stroke-width="2" fill="none"/>
<rect x="476.8" y="326.7" width="31.899999999999977" height="20.80000000000001" fill="#808080" stroke="#000" stroke-width="1.0"/>
<path d="M492.75 326.7 V319.1" stroke="#222" stroke-width="1.3" fill="none"/>
<path d="M485.1 319.1 H500.8" stroke="#111" stroke-width="2" fill="none"/>
<text x="395.0" y="358.3" font-family='"Liberation Serif", serif' font-size="10.5" fill="#111" stroke="#111" stroke-width="0.25" textLength="9.5" lengthAdjust="spacingAndGlyphs" >wt</text>
<text x="435.1" y="357.8" font-family='"Liberation Serif", serif' font-size="10.5" fill="#111" stroke="#111" stroke-width="0.25" textLength="29.9" lengthAdjust="spacingAndGlyphs" >IRP1-/-</text>
<text x="482.2" y="357.8" font-family='"Liberation Serif", serif' font-size="10.5" fill="#111" stroke="#111" stroke-width="0.25" textLength="29.8" lengthAdjust="spacingAndGlyphs" >IRP2-/-</text>
<text x="419.9" y="221.6" font-family='"Liberation Serif", serif' font-size="10.3" fill="#111" stroke="#111" stroke-width="0.25" textLength="73.8" lengthAdjust="spacingAndGlyphs" >polychromatic and</text>
<text x="387.9" y="229.5" font-family='"Liberation Serif", serif' font-size="10.3" fill="#111" stroke="#111" stroke-width="0.25" textLength="117.3" lengthAdjust="spacingAndGlyphs" >orthrochromatic erythroblasts</text>
<text x="427.8" y="242.0" font-family='"Liberation Serif", serif' font-size="10.3" fill="#111" stroke="#111" stroke-width="0.25" textLength="36.5" lengthAdjust="spacingAndGlyphs" >region III</text>
<path d="M393.2 256.8 V255.5 H444.8 V256.8" stroke="#333" stroke-width="1.1" fill="none"/>
<circle cx="417.2" cy="251.3" r="1.45" fill="#7a7a7a"/>
<circle cx="421.2" cy="251.3" r="1.45" fill="#7a7a7a"/>
<text x="0" y="0" font-family='"Liberation Serif", serif' font-size="10.8" fill="#111" stroke="#111" stroke-width="0.25" textLength="29.9" lengthAdjust="spacingAndGlyphs" transform="translate(355.0 307.5) rotate(-90)">% total</text>
<text x="0.5" y="384.0" font-family='"Liberation Sans", sans-serif' font-size="10.5" fill="#000" stroke="#000" stroke-width="0.25" textLength="7.1" lengthAdjust="spacingAndGlyphs" font-weight="bold">E</text>
<text x="78.3" y="382.3" font-family='"Liberation Serif", serif' font-size="10.5" fill="#111" stroke="#111" stroke-width="0.25" textLength="9.5" lengthAdjust="spacingAndGlyphs" >wt</text>
<text x="158.2" y="383.0" font-family='"Liberation Serif", serif' font-size="10.5" fill="#111" stroke="#111" stroke-width="0.25" textLength="31.7" lengthAdjust="spacingAndGlyphs" >IRP1-/-</text>
<text x="242.7" y="383.0" font-family='"Liberation Serif", serif' font-size="10.5" fill="#111" stroke="#111" stroke-width="0.25" textLength="32.3" lengthAdjust="spacingAndGlyphs" >IRP2-/-</text>
<path d="M44.4 391 V389.5 H121.2 V391" stroke="#111" stroke-width="1.1" fill="none"/>
<path d="M132.8 391 V389.5 H208.8 V391" stroke="#111" stroke-width="1.1" fill="none"/>
<path d="M216.6 391 V389.5 H293.5 V391" stroke="#111" stroke-width="1.1" fill="none"/>
<rect x="33.8" y="398.5" width="275.8" height="30.6" fill="#c3c3c3"/>
<rect x="32.8" y="439.7" width="274.5" height="42.8" fill="#d4d4d4"/>
<rect x="31.7" y="494" width="274.9" height="39.8" fill="#cecece"/>
<rect x="34" y="398.6" width="275.4" height="1.6" fill="#d2d2d2"/>
<rect x="175" y="402.5" width="17" height="8.5" fill="#bcbcbc" filter="url(#bl3)"/>
<rect x="197" y="402.5" width="16" height="8.5" fill="#bdbdbd" filter="url(#bl3)"/>
<rect x="36.1" y="406.3" width="20.3" height="15.7" rx="4" fill="url(#bg1)" filter="url(#bl2)"/>
<rect x="57.1" y="406.3" width="24.7" height="15.7" rx="4" fill="url(#bg1)" filter="url(#bl2)"/>
<rect x="81.6" y="406.3" width="21.8" height="15.7" rx="4" fill="url(#bg1)" filter="url(#bl2)"/>
<rect x="104.0" y="406.3" width="20.7" height="14.7" rx="4" fill="url(#bg1)" filter="url(#bl2)"/>
<rect x="217.6" y="406.0" width="22.0" height="14.0" rx="4" fill="url(#bg1)" filter="url(#bl2)"/>
<rect x="241.1" y="405.3" width="22.1" height="13.2" rx="4" fill="url(#bg1)" filter="url(#bl2)"/>
<rect x="263.8" y="404.0" width="22.1" height="12.5" rx="4" fill="url(#bg1)" filter="url(#bl2)"/>
<rect x="287.3" y="403.5" width="19.6" height="12.5" rx="4" fill="url(#bg1)" filter="url(#bl2)"/>
<rect x="39.2" y="456.0" width="19.7" height="9.3" rx="3" fill="rgb(40,40,40)" filter="url(#bl2)"/>
<rect x="62.6" y="457.2" width="18.2" height="8.1" rx="3" fill="rgb(51,51,51)" filter="url(#bl2)"/>
<rect x="85.0" y="457.0" width="18.1" height="8.0" rx="3" fill="rgb(51,51,51)" filter="url(#bl2)"/>
<rect x="108.4" y="458.5" width="16.6" height="5.8" rx="3" fill="rgb(127,127,127)" filter="url(#bl2)"/>
<rect x="129.2" y="455.7" width="18.7" height="10.3" rx="3" fill="rgb(25,25,25)" filter="url(#bl2)"/>
<rect x="151.4" y="456.3" width="18.6" height="9.4" rx="3" fill="rgb(30,30,30)" filter="url(#bl2)"/>
<rect x="173.6" y="455.1" width="19.0" height="12.4" rx="3" fill="rgb(25,25,25)" filter="url(#bl2)"/>
<rect x="194.8" y="455.5" width="18.4" height="11.0" rx="3" fill="rgb(30,30,30)" filter="url(#bl2)"/>
<rect x="217.6" y="458.0" width="18.8" height="8.5" rx="3" fill="rgb(89,89,89)" filter="url(#bl2)"/>
<rect x="240.0" y="456.9" width="17.2" height="7.8" rx="3" fill="rgb(56,56,56)" filter="url(#bl2)"/>
<rect x="261.9" y="454.7" width="18.3" height="9.4" rx="3" fill="rgb(40,40,40)" filter="url(#bl2)"/>
<rect x="283.8" y="454.5" width="17.2" height="8.5" rx="3" fill="rgb(40,40,40)" filter="url(#bl2)"/>
<rect x="36.3" y="505.7" width="22.9" height="12.8" rx="4" fill="rgb(12,12,12)" filter="url(#bl2)"/>
<rect x="60.8" y="506.0" width="21.9" height="14.1" rx="4" fill="rgb(12,12,12)" filter="url(#bl2)"/>
<rect x="83.1" y="508.5" width="21.3" height="13.2" rx="4" fill="rgb(12,12,12)" filter="url(#bl2)"/>
<rect x="106.1" y="509.1" width="21.6" height="11.2" rx="4" fill="rgb(12,12,12)" filter="url(#bl2)"/>
<rect x="129.2" y="509.5" width="18.7" height="9.2" rx="4" fill="rgb(12,12,12)" filter="url(#bl2)"/>
<rect x="151.4" y="509.0" width="19.0" height="9.0" rx="4" fill="rgb(12,12,12)" filter="url(#bl2)"/>
<rect x="173.2" y="510.3" width="19.4" height="9.7" rx="4" fill="rgb(12,12,12)" filter="url(#bl2)"/>
<rect x="194.8" y="509.5" width="19.2" height="10.5" rx="4" fill="rgb(12,12,12)" filter="url(#bl2)"/>
<rect x="215.8" y="510.3" width="22.8" height="12.7" rx="4" fill="rgb(12,12,12)" filter="url(#bl2)"/>
<rect x="239.3" y="509.5" width="21.8" height="11.5" rx="4" fill="rgb(12,12,12)" filter="url(#bl2)"/>
<rect x="261.4" y="508.0" width="20.4" height="12.7" rx="4" fill="rgb(12,12,12)" filter="url(#bl2)"/>
<rect x="282.6" y="506.8" width="20.7" height="12.7" rx="4" fill="rgb(12,12,12)" filter="url(#bl2)"/>
<text x="10.6" y="420.0" font-family='"Liberation Serif", serif' font-size="10.5" fill="#111" stroke="#111" stroke-width="0.25" textLength="19.0" lengthAdjust="spacingAndGlyphs" >IRP1</text>
<text x="8.0" y="465.5" font-family='"Liberation Serif", serif' font-size="10.5" fill="#111" stroke="#111" stroke-width="0.25" textLength="20.6" lengthAdjust="spacingAndGlyphs" >TfR1</text>
<text x="0.3" y="513.6" font-family='"Liberation Serif", serif' font-size="10.8" fill="#111" stroke="#111" stroke-width="0.25" textLength="29.3" lengthAdjust="spacingAndGlyphs" >β-actin</text>
<path d="M342.6 399.1 V510.6 M342.6 510.6 H518.8" stroke="#000" stroke-width="1.4" fill="none"/>
<path d="M339.8 510.6 H342.6" stroke="#000" stroke-width="1.4"/>
<text x="335.7" y="513.2" font-family='"Liberation Serif", serif' font-size="10.3" fill="#111" stroke="#111" stroke-width="0.25" textLength="4.6" lengthAdjust="spacingAndGlyphs">0</text>
<path d="M339.8 455.2 H342.6" stroke="#000" stroke-width="1.4"/>
<text x="335.7" y="457.8" font-family='"Liberation Serif", serif' font-size="10.3" fill="#111" stroke="#111" stroke-width="0.25" textLength="4.6" lengthAdjust="spacingAndGlyphs">1</text>
<path d="M339.8 399.7 H342.6" stroke="#000" stroke-width="1.4"/>
<text x="335.7" y="402.3" font-family='"Liberation Serif", serif' font-size="10.3" fill="#111" stroke="#111" stroke-width="0.25" textLength="4.6" lengthAdjust="spacingAndGlyphs">2</text>
<rect x="354.8" y="455.8" width="38.5" height="54.80000000000001" fill="#000" stroke="#000" stroke-width="1.0"/>
<path d="M374.05 455.8 V453" stroke="#222" stroke-width="1.3" fill="none"/>
<path d="M362.9 453 H384.6" stroke="#111" stroke-width="2" fill="none"/>
<rect x="412.2" y="427" width="40.0" height="83.60000000000002" fill="#fff" stroke="#000" stroke-width="1.0"/>
<path d="M432.2 427 V424.9" stroke="#222" stroke-width="1.3" fill="none"/>
<path d="M420.9 424.9 H442.9" stroke="#111" stroke-width="2" fill="none"/>
<rect x="470.4" y="446.7" width="39.700000000000045" height="63.900000000000034" fill="#808080" stroke="#000" stroke-width="1.0"/>
<path d="M490.25 446.7 V444.3" stroke="#222" stroke-width="1.3" fill="none"/>
<path d="M479.7 444.3 H500" stroke="#111" stroke-width="2" fill="none"/>
<text x="369.3" y="521.8" font-family='"Liberation Serif", serif' font-size="10.5" fill="#111" stroke="#111" stroke-width="0.25" textLength="11.5" lengthAdjust="spacingAndGlyphs" >wt</text>
<text x="419.7" y="522.0" font-family='"Liberation Serif", serif' font-size="10.5" fill="#111" stroke="#111" stroke-width="0.25" textLength="35.4" lengthAdjust="spacingAndGlyphs" >IRP1-/-</text>
<text x="477.7" y="522.0" font-family='"Liberation Serif", serif' font-size="10.5" fill="#111" stroke="#111" stroke-width="0.25" textLength="32.4" lengthAdjust="spacingAndGlyphs" >IRP2-/-</text>
<path d="M368 410.8 V409.5 H423 V410.8" stroke="#333" stroke-width="1.1" fill="none"/>
<circle cx="390.3" cy="404.3" r="1.15" fill="#7a7a7a"/>
<circle cx="393.5" cy="404.3" r="1.15" fill="#7a7a7a"/>
<circle cx="396.7" cy="404.3" r="1.15" fill="#7a7a7a"/>
<path d="M435 410.8 V409.5 H489.5 V410.8" stroke="#333" stroke-width="1.1" fill="none"/>
<circle cx="458.5" cy="404.3" r="1.15" fill="#7a7a7a"/>
<circle cx="461.6" cy="404.3" r="1.15" fill="#7a7a7a"/>
<circle cx="464.8" cy="404.3" r="1.15" fill="#7a7a7a"/>
<text x="0" y="0" font-family='"Liberation Serif", serif' font-size="10.5" fill="#111" stroke="#111" stroke-width="0.25" textLength="97.7" lengthAdjust="spacingAndGlyphs" transform="translate(321.2 505.2) rotate(-90)">relative band intensity</text>
<text x="0" y="0" font-family='"Liberation Serif", serif' font-size="10.5" fill="#111" stroke="#111" stroke-width="0.25" textLength="62.9" lengthAdjust="spacingAndGlyphs" transform="translate(329.9 488.3) rotate(-90)">(TfR1/β-actin)</text></svg>
</body></html>
